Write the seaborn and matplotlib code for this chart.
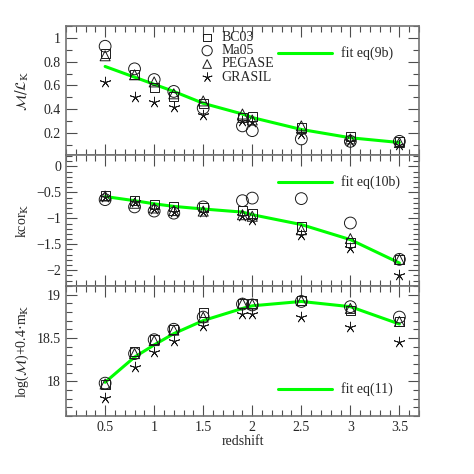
import numpy as np
import pandas as pd
import matplotlib
matplotlib.use('Agg')
import matplotlib.pyplot as plt
from matplotlib.ticker import MultipleLocator, FuncFormatter
import seaborn as sns

# redshift grid shared by every model
redshift = [0.5, 0.8, 1.0, 1.2, 1.5, 1.9, 2.0, 2.5, 3.0, 3.5]
models = ['BC03', 'Ma05', 'PEGASE', 'GRASIL']

# panel 1: M/L_K
ml_bc03 = [0.87, 0.69, 0.58, 0.51, 0.45, 0.33, 0.34, 0.25, 0.17, 0.13]
ml_ma05 = [0.93, 0.74, 0.65, 0.55, 0.41, 0.26, 0.22, 0.15, 0.13, 0.13]
ml_pegase = [0.85, 0.69, 0.63, 0.53, 0.47, 0.36, 0.31, 0.26, 0.15, 0.12]
ml_grasil = [0.63, 0.50, 0.46, 0.42, 0.35, 0.30, 0.29, 0.19, 0.13, 0.10]
ml_fit = [0.76, 0.67, 0.61, 0.55, 0.45, 0.36, 0.33, 0.23, 0.16, 0.12]

# panel 2: kcor_K
kc_bc03 = [-0.56, -0.66, -0.74, -0.77, -0.80, -0.85, -0.90, -1.15, -1.47, -1.79]
kc_ma05 = [-0.64, -0.78, -0.86, -0.90, -0.78, -0.66, -0.61, -0.62, -1.09, -1.79]
kc_pegase = [-0.57, -0.71, -0.80, -0.85, -0.86, -0.93, -0.96, -1.22, -1.39, -1.79]
kc_grasil = [-0.58, -0.69, -0.82, -0.87, -0.88, -0.95, -1.03, -1.33, -1.58, -2.10]
kc_fit = [-0.58, -0.66, -0.72, -0.77, -0.82, -0.88, -0.93, -1.12, -1.41, -1.86]

# panel 3: log(M)+0.4 m_K
lm_bc03 = [17.97, 18.34, 18.48, 18.60, 18.79, 18.90, 18.90, 18.93, 18.82, 18.69]
lm_ma05 = [17.98, 18.32, 18.48, 18.60, 18.74, 18.89, 18.88, 18.92, 18.86, 18.74]
lm_pegase = [17.97, 18.32, 18.47, 18.59, 18.74, 18.90, 18.89, 18.93, 18.84, 18.69]
lm_grasil = [17.81, 18.17, 18.34, 18.47, 18.64, 18.78, 18.78, 18.74, 18.63, 18.45]
lm_fit = [17.99, 18.28, 18.42, 18.55, 18.70, 18.84, 18.87, 18.92, 18.86, 18.66]

markers = {'BC03': 's', 'Ma05': 'o', 'PEGASE': '^', 'GRASIL': (5, 2, 0)}
sizes = {'BC03': 42, 'Ma05': 72, 'PEGASE': 52, 'GRASIL': 60}

sns.set_theme(style='ticks')
plt.rcParams['font.family'] = ['Liberation Serif', 'DejaVu Serif']
plt.rcParams['mathtext.fontset'] = 'dejavuserif'

fig = plt.figure(figsize=(4.74, 4.74), dpi=100)
left, width = 0.139, 0.745
ax1 = fig.add_axes([left, 0.673, width, 0.272])
ax2 = fig.add_axes([left, 0.397, width, 0.276])
ax3 = fig.add_axes([left, 0.122, width, 0.275])

fmt = FuncFormatter(lambda v, p: f'{v:g}'.replace('-', '\u2212'))

panels = [
    (ax1, [ml_bc03, ml_ma05, ml_pegase, ml_grasil], ml_fit, 'fit eq(9b)',
     (0.015, 1.1), 0.2, r'$\mathcal{M}/\mathcal{L}_{\rm K}$', 0.79),
    (ax2, [kc_bc03, kc_ma05, kc_pegase, kc_grasil], kc_fit, 'fit eq(10b)',
     (-2.3, 0.22), 0.5, r'kcor$_{\rm K}$', 0.79),
    (ax3, [lm_bc03, lm_ma05, lm_pegase, lm_grasil], lm_fit, 'fit eq(11)',
     (17.6, 19.1), 0.5, r'log($\mathcal{M}$)+0.4$\cdot$m$_{\rm K}$', 0.21),
]

for ax, series, fit, fit_label, ylim, major, ylabel, leg_y in panels:
    df = pd.DataFrame({'z': redshift, 'fit': fit})
    sns.lineplot(data=df, x='z', y='fit', ax=ax, color='#00ff00', lw=2.2,
                 zorder=1, legend=False)
    for name, vals in zip(models, series):
        d = pd.DataFrame({'z': redshift, 'v': vals})
        m = markers[name]
        if name == 'GRASIL':
            sns.scatterplot(data=d, x='z', y='v', ax=ax, marker=m, s=sizes[name],
                            color='k', linewidth=0.6, zorder=3, legend=False)
        else:
            sns.scatterplot(data=d, x='z', y='v', ax=ax, marker=m, s=sizes[name],
                            facecolor='none', edgecolor='k', linewidth=0.7,
                            zorder=3, legend=False)
    ax.set_xlim(0.1, 3.7)
    ax.set_ylim(*ylim)
    ax.xaxis.set_major_locator(MultipleLocator(0.5))
    ax.xaxis.set_minor_locator(MultipleLocator(0.1))
    ax.yaxis.set_major_locator(MultipleLocator(major))
    ax.yaxis.set_minor_locator(MultipleLocator(0.1))
    ax.xaxis.set_major_formatter(fmt)
    ax.yaxis.set_major_formatter(fmt)
    ax.tick_params(which='both', direction='in', top=True, right=True,
                   labelsize=10, width=0.8, color='0.3')
    ax.tick_params(which='major', length=8)
    ax.tick_params(which='minor', length=4)
    for sp in ax.spines.values():
        sp.set_color('0.45')
        sp.set_linewidth(1.2)
    ax.set_ylabel(ylabel, fontsize=10)
    ax.yaxis.set_label_coords(-0.1, 0.5)
    ax.set_xlabel('')
    # fit legend entry
    ax.plot([0.60, 0.754], [leg_y, leg_y], transform=ax.transAxes,
            color='#00ff00', lw=2.2)
    ax.text(0.78, leg_y, fit_label, transform=ax.transAxes, fontsize=10,
            va='center', ha='left')

ax1.tick_params(labelbottom=False)
ax2.tick_params(labelbottom=False)
ax3.set_xlabel('redshift', fontsize=10, labelpad=1)

# model legend in the top panel
for i, name in enumerate(models):
    y = 0.912 - i * 0.103
    kw = dict(color='k', linewidth=0.6) if name == 'GRASIL' else \
        dict(facecolor='none', edgecolor='k', linewidth=0.7)
    ax1.scatter([0.40], [y], transform=ax1.transAxes, marker=markers[name],
                s=sizes[name] * 0.75, clip_on=False, **kw)
    ax1.text(0.44, y, name, transform=ax1.transAxes, fontsize=10, va='center')

fig.savefig('out.png', dpi=100)
